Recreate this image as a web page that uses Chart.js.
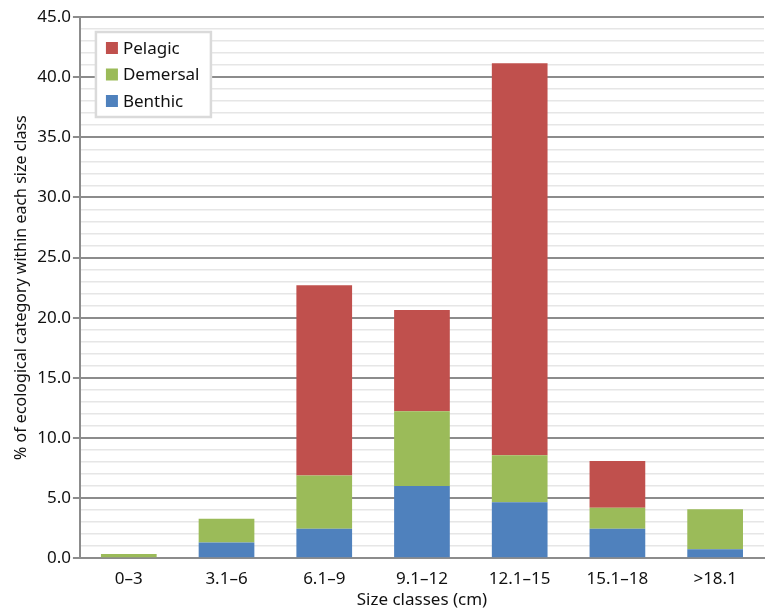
<!DOCTYPE html>
<html>
<head>
<meta charset="utf-8">
<script src="https://cdn.jsdelivr.net/npm/chart.js@4.4.0/dist/chart.umd.min.js"></script>
<style>
  body { margin: 0; background: #fff; }
  #wrap { width: 769px; height: 610px; }
</style>
</head>
<body>
<div id="wrap"><canvas id="bar-chart"></canvas></div>
<script>
// values (% per size class)
const sizeClasses = ['0\u20133', '3.1\u20136', '6.1\u20139', '9.1\u201312', '12.1\u201315', '15.1\u201318', '>18.1'];
const benthic  = [0,    1.3,  2.45, 6.0,  4.65, 2.45, 0.75];
const demersal = [0.35, 1.97, 4.42, 6.22, 3.9,  1.75, 3.33];
const pelagic  = [0,    0,    15.83, 8.42, 32.6, 3.89, 0];

const font = '"Noto Sans", "DejaVu Sans", sans-serif';

// legend with a box drawn inside the plot, Pelagic on top
const boxLegend = {
  id: 'boxLegend',
  afterDraw(chart) {
    const ctx = chart.ctx;
    const a = chart.chartArea;
    const x = a.left + 16, y = a.top + 15, w = 115, h = 85;
    ctx.save();
    ctx.fillStyle = '#fff';
    ctx.fillRect(x, y, w, h);
    ctx.strokeStyle = '#dadada';
    ctx.lineWidth = 2.5;
    ctx.strokeRect(x, y, w, h);
    const items = chart.data.datasets.slice().reverse();
    ctx.font = '17px ' + font;
    ctx.textBaseline = 'middle';
    items.forEach(function (ds, i) {
      const cy = y + 16 + i * 26.5;
      ctx.fillStyle = ds.backgroundColor;
      ctx.fillRect(x + 10, cy - 6, 12, 12);
      ctx.fillStyle = '#111';
      ctx.fillText(ds.label, x + 27, cy + 1);
    });
    ctx.restore();
  }
};

new Chart(document.getElementById('bar-chart'), {
  type: 'bar',
  data: {
    labels: sizeClasses,
    datasets: [
      { label: 'Benthic',  data: benthic,  backgroundColor: '#4F81BD' },
      { label: 'Demersal', data: demersal, backgroundColor: '#9BBB59' },
      { label: 'Pelagic',  data: pelagic,  backgroundColor: '#C0504D' }
    ]
  },
  options: {
    responsive: true,
    maintainAspectRatio: false,
    animation: false,
    categoryPercentage: 1.0,
    barPercentage: 0.57,
    layout: { padding: { top: 17, right: 5, left: 12, bottom: 0 } },
    plugins: {
      legend: { display: false },
      tooltip: { enabled: false }
    },
    scales: {
      x: {
        stacked: true,
        grid: { display: false },
        border: { display: true, color: '#8c8c8c', width: 2 },
        ticks: { color: '#111', font: { family: font, size: 17 }, padding: 3 },
        title: {
          display: true,
          text: 'Size classes (cm)',
          color: '#111',
          font: { family: font, size: 17 },
          padding: { top: -3, bottom: 0 }
        }
      },
      y: {
        stacked: true,
        min: 0,
        max: 45,
        border: { display: true, color: '#8c8c8c', width: 2 },
        grid: {
          color: function (c) { return c.tick && c.tick.value % 5 === 0 ? '#8c8c8c' : '#e6e6e6'; },
          lineWidth: function (c) { return c.tick && c.tick.value % 5 === 0 ? 2 : 1.5; },
          tickColor: function (c) { return c.tick && c.tick.value % 5 === 0 ? '#8c8c8c' : 'rgba(0,0,0,0)'; },
          tickLength: 7
        },
        ticks: {
          stepSize: 1,
          autoSkip: false,
          color: '#111',
          font: { family: font, size: 17 },
          padding: 2,
          callback: function (v) { return v % 5 === 0 ? v.toFixed(1) : ''; }
        },
        title: {
          display: true,
          text: '% of ecological category within each size class',
          color: '#111',
          font: { family: font, size: 16 },
          padding: { top: 0, bottom: 4 }
        }
      }
    }
  },
  plugins: [boxLegend]
});
</script>
</body>
</html>
